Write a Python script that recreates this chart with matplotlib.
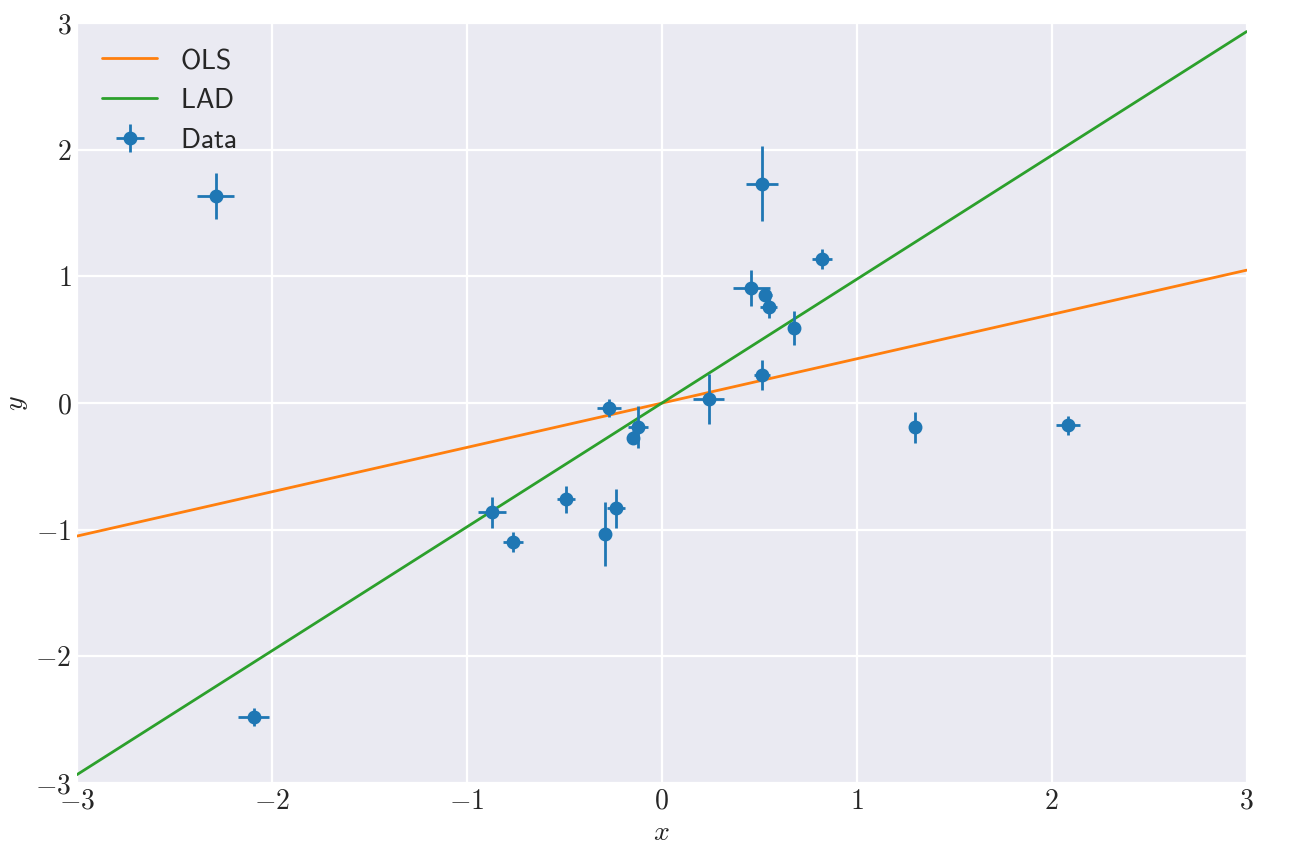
import matplotlib
matplotlib.use('Agg')
import matplotlib.pyplot as plt
import numpy as np

# data points (x, y) with errors
x_data = [-2.289, -2.094, -0.870, -0.763, -0.491, -0.289, -0.234, -0.270, -0.121, -0.147,
          0.241, 0.514, 0.460, 0.532, 0.549, 0.678, 0.824, 0.514, 1.299, 2.082]
y_data = [1.637, -2.477, -0.863, -1.097, -0.760, -1.034, -0.832, -0.037, -0.192, -0.274,
          0.032, 1.731, 0.910, 0.850, 0.760, 0.590, 1.137, 0.221, -0.192, -0.176]
x_err = [0.096, 0.081, 0.071, 0.053, 0.046, 0.030, 0.046, 0.060, 0.050, 0.030,
         0.079, 0.080, 0.097, 0.034, 0.043, 0.020, 0.051, 0.043, 0.020, 0.062]
y_err = [0.184, 0.070, 0.125, 0.076, 0.105, 0.253, 0.151, 0.072, 0.166, 0.050,
         0.197, 0.296, 0.145, 0.047, 0.085, 0.134, 0.079, 0.118, 0.122, 0.072]

# fitted lines: (intercept, slope)
ols_coef = (0.0, 0.35)
lad_coef = (0.0, 0.978)

ticks = [-3, -2, -1, 0, 1, 2, 3]
tick_labels = [r'$-3$', r'$-2$', r'$-1$', r'$0$', r'$1$', r'$2$', r'$3$']

plt.style.use('seaborn-v0_8-darkgrid')
plt.rcParams['mathtext.fontset'] = 'cm'
plt.rcParams['font.size'] = 10

fig, ax = plt.subplots(figsize=(6.52, 4.3), dpi=200)
fig.subplots_adjust(left=0.059, right=0.956, top=0.973, bottom=0.0895)

xs = np.array([-3, 3])
ax.plot(xs, ols_coef[0] + ols_coef[1] * xs, color='C1', lw=1.0, label=r'$\mathsf{OLS}$')
ax.plot(xs, lad_coef[0] + lad_coef[1] * xs, color='C2', lw=1.0, label=r'$\mathsf{LAD}$')
ax.errorbar(x_data, y_data, xerr=x_err, yerr=y_err, fmt='o', color='C0',
            ms=4, elinewidth=1.0, capsize=0, label=r'$\mathsf{Data}$')

ax.set_xlim(-3, 3)
ax.set_ylim(-3, 3)
ax.set_xticks(ticks)
ax.set_xticklabels(tick_labels)
ax.set_yticks(ticks)
ax.set_yticklabels(tick_labels)
ax.tick_params(labelsize=10, pad=2)
ax.set_xlabel(r'$x$', fontsize=10, labelpad=2)
ax.set_ylabel(r'$y$', fontsize=10, labelpad=2)

ax.legend(loc='upper left', frameon=False, fontsize=10)

plt.savefig('out.png')
